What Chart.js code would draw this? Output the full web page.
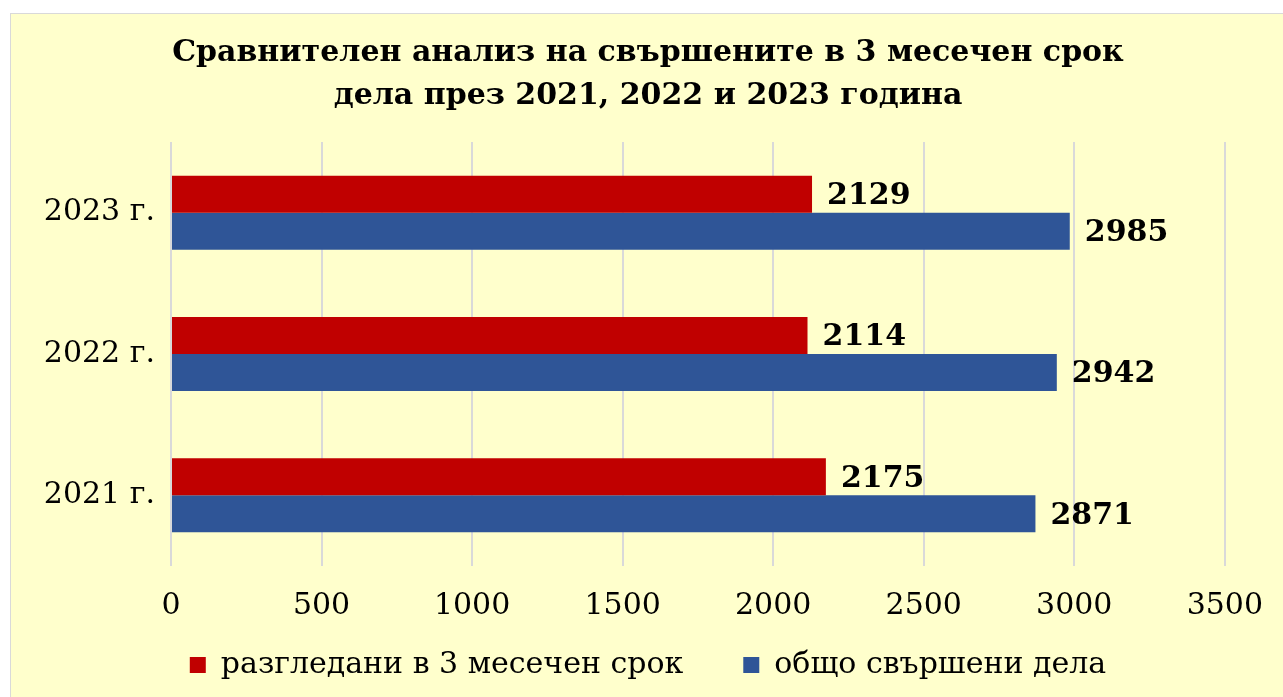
<!DOCTYPE html>
<html>
<head>
<meta charset="utf-8">
<script src="https://cdn.jsdelivr.net/npm/chart.js@4.4.0/dist/chart.umd.min.js"></script>
<style>
  body { margin: 0; background: #ffffff; overflow: hidden; }
  #wrap {
    position: absolute; left: 10px; top: 13px;
    width: 1274px; height: 700px;
    background: #FFFFCC; border: 1px solid #D9D9D9;
  }
</style>
</head>
<body>
<div id="wrap"><canvas id="chart1"></canvas></div>
<script>
// chart data
let yearLabels = ['2023 г.', '2022 г.', '2021 г.'];
let reviewedIn3Months = [2129, 2114, 2175];
let totalCompleted = [2985, 2942, 2871];
let seriesNames = ['разгледани в 3 месечен срок', 'общо свършени дела'];
let titleLines = ['Сравнителен анализ на свършените в 3 месечен срок', 'дела през 2021, 2022 и 2023 година'];

const FONT = "'DejaVu Serif', serif";

// draws the number to the right of every bar
const barValueLabels = {
  id: 'barValueLabels',
  afterDatasetsDraw(chart) {
    var ctx = chart.ctx;
    ctx.save();
    ctx.font = 'bold 30px ' + FONT;
    ctx.fillStyle = '#000000';
    ctx.textAlign = 'left';
    ctx.textBaseline = 'middle';
    chart.data.datasets.forEach(function(ds, i) {
      var meta = chart.getDatasetMeta(i);
      meta.data.forEach(function(bar, j) {
        ctx.fillText(String(ds.data[j]), bar.x + 15, bar.y + 2);
      });
    });
    ctx.restore();
  }
};

// legend needs wide gaps between items (padding) but a short box
const LEGEND_SHIFT = 34;
const legendFix = {
  id: 'legendFix',
  beforeLayout(chart) {
    var lg = chart.legend;
    if (lg && !lg._wrapped) {
      var origFit = lg.fit;
      var origDraw = lg.draw;
      lg.fit = function() {
        origFit.call(this);
        this.height = 66;
      };
      lg.draw = function() {
        this.top -= LEGEND_SHIFT;
        origDraw.call(this);
        this.top += LEGEND_SHIFT;
      };
      lg._wrapped = true;
    }
  }
};

var ctx = document.getElementById('chart1').getContext('2d');
var myChart = new Chart(ctx, {
  type: 'bar',
  data: {
    labels: yearLabels,
    datasets: [
      {
        label: seriesNames[0],
        data: reviewedIn3Months,
        backgroundColor: '#C00000',
        barPercentage: 1,
        categoryPercentage: 0.523,
      },
      {
        label: seriesNames[1],
        data: totalCompleted,
        backgroundColor: '#2F5597',
        barPercentage: 1,
        categoryPercentage: 0.523,
      },
    ],
  },
  options: {
    indexAxis: 'y',
    responsive: true,
    maintainAspectRatio: false,
    animation: false,
    layout: { padding: { left: 0, right: 0, top: 0, bottom: 24 } },
    plugins: {
      title: {
        display: true,
        text: titleLines,
        color: '#000000',
        font: { family: FONT, size: 30, weight: 'bold', lineHeight: 1.45 },
        padding: { top: 17, bottom: 24 },
      },
      legend: {
        position: 'bottom',
        labels: {
          color: '#000000',
          font: { family: FONT, size: 30 },
          boxWidth: 16,
          boxHeight: 16,
          padding: 60,
        },
      },
      tooltip: { enabled: false },
    },
    scales: {
      x: {
        min: 0,
        max: 3500,
        ticks: {
          stepSize: 500,
          color: '#000000',
          font: { family: FONT, size: 30 },
          padding: 22,
          callback: function(v) { return String(v); },
        },
        grid: { color: '#D9D9D9', lineWidth: 2, drawTicks: false },
        border: { display: false },
        afterFit: function(scale) { scale.height = 58; },
      },
      y: {
        ticks: {
          color: '#000000',
          font: { family: FONT, size: 30 },
          padding: 8,
        },
        grid: { display: false },
        border: { display: false },
        afterFit: function(scale) { scale.width = 160; },
      },
      yRight: {
        type: 'category',
        position: 'right',
        ticks: { display: false },
        grid: { display: false },
        border: { display: false },
        afterFit: function(scale) { scale.width = 59; },
      },
    },
  },
  plugins: [barValueLabels, legendFix],
});
</script>
</body>
</html>
